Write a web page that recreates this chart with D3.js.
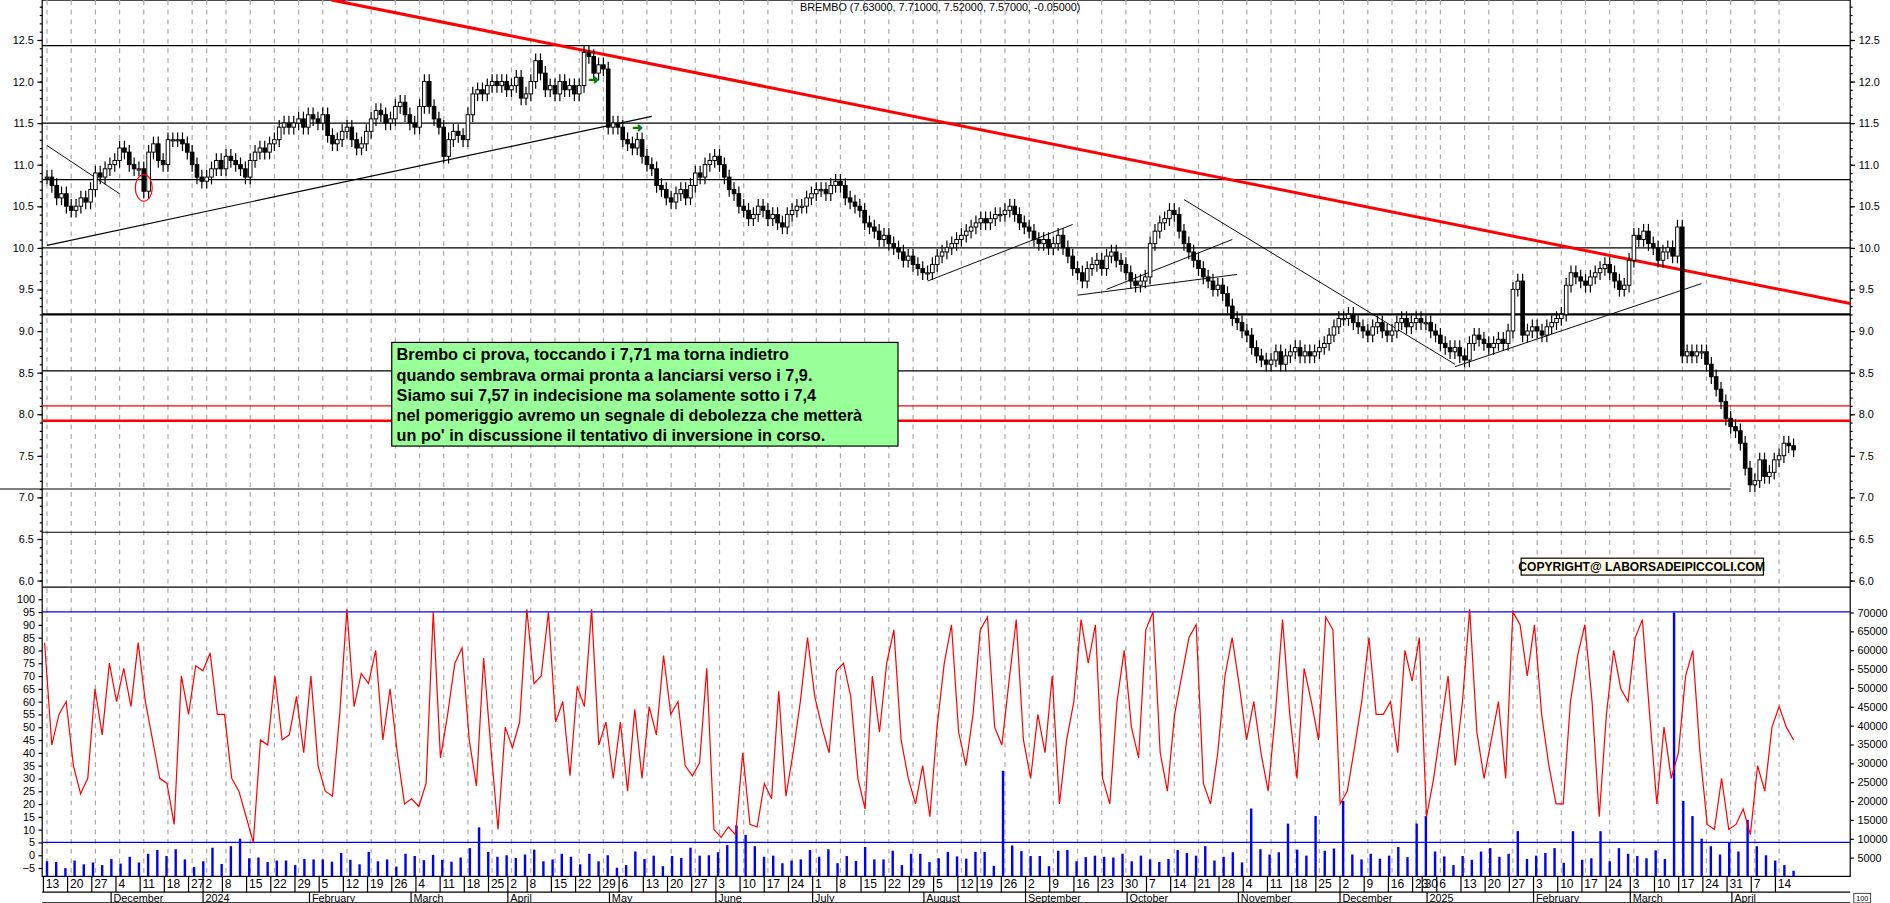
<!DOCTYPE html>
<html><head><meta charset="utf-8">
<script src="https://cdn.jsdelivr.net/npm/d3@7"></script>
<style>body{margin:0;background:#fff}svg{display:block;font-family:Arial,"Liberation Sans",sans-serif}</style>
</head><body><svg width="1890" height="903" viewBox="0 0 1568 749"></svg>
<script>
const title = "BREMBO (7.63000, 7.71000, 7.52000, 7.57000, -0.05000)";
const firstDay = "2023-11-13";
const holidays = ["2023-12-25","2023-12-26","2024-01-01","2024-03-29","2024-04-01","2024-05-01","2024-08-15",
  "2024-12-24","2024-12-25","2024-12-26","2024-12-31","2025-01-01"];
// daily closes, read week by week
const closes = [
  10.85,10.75,10.6,10.65,10.5, 10.45,10.5,10.6,10.55,10.7, 10.9,10.85,10.95,11.0,11.05,
  11.2,11.15,11.0,10.95,10.95, 10.68,11.15,11.25,11.05,11.0, 11.3,11.3,11.3,11.25,11.15, 11.0,10.85,10.8,
  10.85,10.95,11.05,10.95, 11.1,11.05,11.0,10.95,10.85, 11.05,11.15,11.2,11.15,11.25, 11.3,11.45,11.5,11.45,11.5,
  11.55,11.45,11.6,11.55,11.5, 11.6,11.35,11.25,11.3,11.4, 11.45,11.3,11.2,11.25,11.4, 11.55,11.65,11.6,11.5,11.55,
  11.7,11.75,11.6,11.5,11.45, 11.7,12.0,11.7,11.55,11.45, 11.1,11.3,11.4,11.35,11.3, 11.6,11.85,11.9,11.85,11.95,
  12.0,11.95,12.0,11.9, 11.95,12.05,11.8,11.85, 12.0,12.25,12.1,11.9,11.95, 11.85,12.0,11.9,11.95,11.85,
  11.95,12.35,12.3,12.1,12.2, 12.15,11.45,11.5, 11.45,11.3,11.25,11.2,11.3, 11.1,11.0,10.95,10.75,10.7,
  10.6,10.55,10.65,10.7,10.6, 10.75,10.9,10.85,11.0,11.05, 11.1,11.0,10.85,10.7,10.65, 10.5,10.45,10.35,10.4,10.5,
  10.45,10.35,10.4,10.3,10.25, 10.4,10.45,10.5,10.5,10.6, 10.65,10.7,10.7,10.65,10.75, 10.8,10.75,10.6,10.55,10.5,
  10.45,10.3,10.25,10.2,10.1, 10.15,10.05,10.0,9.95,9.85, 9.9,9.8,9.75,9.7,9.7, 9.8,9.9,9.95,10.0,10.05,
  10.1,10.15,10.2,10.25,10.3, 10.35,10.3,10.35,10.4,10.4, 10.45,10.5,10.4,10.3,10.25, 10.2,10.1,10.05,10.1,10.0,
  10.05,10.15,10.0,9.9,9.75, 9.7,9.6,9.75,9.8,9.85, 9.75,9.9,9.95,9.85,9.8, 9.7,9.6,9.55,9.6,9.65,
  10.05,10.2,10.3,10.35,10.45, 10.4,10.2,10.05,9.95,9.85, 9.75,9.65,9.6,9.5,9.55, 9.45,9.3,9.15,9.1,9.0,
  8.95,8.8,8.7,8.65,8.6, 8.65,8.75,8.6,8.7,8.75, 8.8,8.7,8.75,8.7,8.75, 8.8,8.85,8.95,9.05,9.15,
  9.15,9.2,9.1,9.05,9.0, 8.95,9.05,9.1,9.0,8.95, 9.0,9.1,9.15,9.05,9.1, 9.15,9.1,9.1,
  9.0,8.95, 8.85,8.8,8.75,8.8,8.7, 8.65,8.85,8.95,8.9,8.85, 8.8,8.85,8.9,8.85,9.0, 9.5,9.6,8.95,9.0,9.05,
  9.0,8.95,9.05,9.1,9.15, 9.2,9.55,9.7,9.65,9.6, 9.55,9.65,9.7,9.75,9.8, 9.7,9.6,9.5,9.55,9.85,
  10.15,10.1,10.2,10.05,10.0, 9.85,9.95,10.0,9.9,10.25, 8.7,8.75,8.7,8.75,8.75, 8.6,8.45,8.3,8.15,7.95,
  7.85,7.8,7.65,7.35,7.15, 7.2,7.45,7.25,7.3,7.45, 7.5,7.65,7.62,7.57
];
const oscValues = [83,43,55,60,35,24,30,65,47,75,60,73,58,83,60,45,30,28,12,70,55,74,72,79,55,55,30,25,15,5,45,43,70,45,47,62,40,70,35,25,23,55,96,58,71,67,80,45,65,40,20,22,19,28,95,38,55,75,81,45,27,77,42,10,50,42,52,96,67,70,95,52,60,31,66,58,96,43,52,30,52,25,57,30,58,47,78,55,60,35,31,36,73,10,7,11,8,40,12,11,28,22,64,23,40,60,85,62,50,40,72,75,62,30,18,70,48,75,88,45,30,20,35,15,50,75,90,48,35,55,88,93,50,43,68,92,45,30,55,40,70,20,45,60,92,75,90,30,20,60,80,50,38,88,95,40,25,55,70,85,90,28,20,40,70,85,66,45,60,40,25,55,92,55,30,73,60,45,93,88,20,25,42,60,85,55,55,60,40,80,68,85,15,30,50,70,35,60,96,48,30,45,60,30,95,90,70,90,55,35,20,20,60,78,90,60,15,55,80,65,60,85,92,55,20,50,30,40,70,80,40,12,10,30,10,12,18,8,35,25,50,58,50,45];
const volumes = [4000,3800,2200,4200,3200,3700,3000,4600,3400,5200,3700,6000,7000,5400,7200,4500,2500,4000,7600,3300,8000,10000,4800,5000,3800,4200,4200,3000,4600,4500,4500,3900,6200,4400,3200,6500,4000,4500,2600,6000,5400,4300,5700,4400,3900,5000,7500,13000,6500,5200,5600,4900,5800,7100,4000,4500,6000,5200,3200,6000,4000,5600,2300,3000,6600,4600,5500,2700,5400,4900,7600,5500,5600,6400,8300,13500,11000,8000,5200,5500,3500,4200,4500,7000,5200,7200,3500,5400,4100,7800,4500,4500,6800,3000,6000,6000,3800,4800,6500,5300,4700,6500,6500,2800,28000,8200,6700,5400,5400,2700,6800,7000,4000,5100,5500,5200,5000,6000,4000,5500,4500,3800,4600,7000,6200,5500,8000,4200,5200,6400,3700,18000,7200,5800,6400,14000,7100,5500,16000,6800,7400,20000,5800,4500,6000,4700,5500,7800,5100,14000,16000,6600,5300,3000,5400,4400,6600,7500,5200,6000,12000,4600,5500,6200,7500,3600,12000,4400,4800,12000,4000,7500,6000,5400,4800,6900,4600,70000,20000,16000,10000,8000,5800,9000,6600,15000,8000,5600,4200,3000,1500];

// trading days from firstDay, skipping weekends and holidays
const parse = d3.utcParse("%Y-%m-%d"), fmt = d3.utcFormat("%Y-%m-%d");
const days = [];
for (let d = parse(firstDay); days.length < closes.length; d = d3.utcDay.offset(d, 1)) {
  const wd = d.getUTCDay();
  if (wd !== 0 && wd !== 6 && !holidays.includes(fmt(d))) days.push(d);
}
const candles = closes.map((c, i) => ({ day: days[i], open: i ? closes[i - 1] : c, close: c }));

const L = 35, R = 1535, P0 = 0, P1 = 487, O1 = 727;
const svg = d3.select("svg");
const x = d3.scalePoint().domain(d3.range(days.length)).range([39, 1488]);
const y = d3.scaleLinear().domain([6.0, 12.5]).range([481.5, 33]);
const yo = d3.scaleLinear().domain([-5, 100]).range([720, 497]);
const yv = d3.scaleLinear().domain([0, 70000]).range([727, 508]);

// frames
svg.append("rect").attr("x", L).attr("y", P0).attr("width", R - L).attr("height", O1 - P0).attr("fill", "none").attr("stroke", "#000");
svg.append("line").attr("x1", L).attr("x2", R).attr("y1", P1).attr("y2", P1).attr("stroke", "#000");

// week starts for grid and labels
const weekIdx = days.map((d, i) => i).filter(i => i === 0 || d3.utcMonday.floor(days[i]) > d3.utcMonday.floor(days[i - 1]));
svg.append("g").selectAll("line").data(weekIdx).join("line")
  .attr("x1", i => x(i)).attr("x2", i => x(i)).attr("y1", 0).attr("y2", O1)
  .attr("stroke", "#aaa").attr("stroke-dasharray", "4,4");

// horizontal levels
const levels = [[12.43, "#000", 1], [11.5, "#000", 1], [10.82, "#000", 1], [10.0, "#000", 1], [9.2, "#000", 2],
  [8.52, "#000", 1], [8.1, "red", 1], [7.92, "red", 2], [6.58, "#000", 1]];
svg.append("g").selectAll("line").data(levels).join("line")
  .attr("x1", L).attr("x2", R).attr("y1", d => y(d[0])).attr("y2", d => y(d[0]))
  .attr("stroke", d => d[1]).attr("stroke-width", d => d[2]);

// trendlines [i1, v1, i2, v2]
const trends = [[0, 10.03, 125, 11.58, "#000", 1], [0, 11.23, 15, 10.65, "#000", 0.8], [182, 9.6, 212, 10.28, "#000", 0.8],
  [213, 9.43, 246, 9.68, "#000", 0.8], [219, 9.5, 245, 10.1, "#000", 0.8], [235, 10.58, 291, 8.6, "#000", 0.8],
  [291, 8.57, 342, 9.57, "#000", 0.8], [348, 7.1, 362, 7.1, "#000", 1]];
svg.append("g").selectAll("line").data(trends).join("line")
  .attr("x1", d => x(d[0])).attr("y1", d => y(d[1])).attr("x2", d => x(d[2])).attr("y2", d => y(d[3]))
  .attr("stroke", d => d[4]).attr("stroke-width", d => d[5]);
svg.append("line").attr("x1", 275).attr("y1", y(12.98)).attr("x2", R).attr("y2", y(9.33)).attr("stroke", "red").attr("stroke-width", 2.5);

// candles
const cg = svg.append("g");
cg.selectAll("line").data(candles).join("line")
  .attr("x1", (d, i) => x(i)).attr("x2", (d, i) => x(i))
  .attr("y1", d => y(Math.max(d.open, d.close)) - 6).attr("y2", d => y(Math.min(d.open, d.close)) + 6).attr("stroke", "#000");
cg.selectAll("rect").data(candles).join("rect")
  .attr("x", (d, i) => x(i) - 1.5).attr("width", 3)
  .attr("y", d => y(Math.max(d.open, d.close))).attr("height", d => Math.max(1, Math.abs(y(d.open) - y(d.close))))
  .attr("fill", d => d.close >= d.open ? "#fff" : "#000").attr("stroke", "#000").attr("stroke-width", 0.8);

svg.append("ellipse").attr("cx", x(20)).attr("cy", y(10.72)).attr("rx", 7).attr("ry", 11).attr("fill", "none").attr("stroke", "red");
[[113, 12.03], [122, 11.45]].forEach(([i, v]) => svg.append("text").attr("x", x(i)).attr("y", y(v) + 4)
  .attr("font-size", 11).attr("font-weight", "bold").attr("fill", "green").attr("text-anchor", "middle").text("➜"));

// oscillator panel
svg.append("g").selectAll("line").data([95, 5]).join("line")
  .attr("x1", L).attr("x2", R).attr("y1", d => yo(d)).attr("y2", d => yo(d)).attr("stroke", "blue");
const xv = d3.scaleLinear().domain([0, volumes.length - 1]).range([39, 1488]);
svg.append("g").selectAll("line").data(volumes).join("line")
  .attr("x1", (d, i) => xv(i)).attr("x2", (d, i) => xv(i)).attr("y1", yv(0)).attr("y2", d => yv(d))
  .attr("stroke", "blue").attr("stroke-width", 2);
const xo = d3.scaleLinear().domain([0, oscValues.length - 1]).range([37, 1488]);
svg.append("path").datum(oscValues).attr("fill", "none").attr("stroke", "red").attr("stroke-width", 1)
  .attr("d", d3.line().x((d, i) => xo(i)).y(d => yo(d)));

// axes
const styleAxis = g => { g.selectAll("text").attr("font-size", 9).attr("fill", "#000"); g.select(".domain").remove(); };
svg.append("g").attr("transform", `translate(${L},0)`)
  .call(d3.axisLeft(y).tickValues(d3.range(6, 12.51, 0.5)).tickFormat(d3.format(".1f")).tickSize(4)).call(styleAxis);
svg.append("g").attr("transform", `translate(${L},0)`)
  .call(d3.axisLeft(y).tickValues(d3.range(6, 12.95, 0.1)).tickFormat("").tickSize(2)).call(g => g.select(".domain").remove());
svg.append("g").attr("transform", `translate(${R},0)`)
  .call(d3.axisRight(y).tickValues(d3.range(6, 12.51, 0.5)).tickFormat(d3.format(".1f")).tickSize(4)).call(styleAxis);
svg.append("g").attr("transform", `translate(${R},0)`)
  .call(d3.axisRight(y).tickValues(d3.range(6, 12.95, 0.1)).tickFormat("").tickSize(2)).call(g => g.select(".domain").remove());
svg.append("g").attr("transform", `translate(${L},0)`)
  .call(d3.axisLeft(yo).tickValues(d3.range(-5, 101, 5)).tickSize(3)).call(styleAxis);
svg.append("g").attr("transform", `translate(${R},0)`)
  .call(d3.axisRight(yv).tickValues(d3.range(5000, 70001, 5000)).tickFormat(d3.format("d")).tickSize(3)).call(styleAxis);

// date rows
svg.append("line").attr("x1", L).attr("x2", R).attr("y1", 740).attr("y2", 740).attr("stroke", "#000");
svg.append("line").attr("x1", L).attr("x2", R).attr("y1", 749).attr("y2", 749).attr("stroke", "#000");
const dg = svg.append("g");
weekIdx.forEach(i => {
  dg.append("line").attr("x1", x(i) - 3).attr("x2", x(i) - 3).attr("y1", O1).attr("y2", 740).attr("stroke", "#000");
  dg.append("text").attr("x", x(i) - 1).attr("y", 737).attr("font-size", 10).text(d3.utcFormat("%-d")(days[i]));
});
const monthIdx = days.map((d, i) => i).filter(i => i > 0 && days[i].getUTCMonth() !== days[i - 1].getUTCMonth());
monthIdx.forEach(i => {
  const m = days[i].getUTCMonth();
  dg.append("line").attr("x1", x(i) - 3).attr("x2", x(i) - 3).attr("y1", 740).attr("y2", 749).attr("stroke", "#000");
  dg.append("text").attr("x", x(i) - 1).attr("y", 748.5).attr("font-size", 9)
    .text(m === 0 ? d3.utcFormat("%Y")(days[i]) : d3.utcFormat("%B")(days[i]));
});
svg.append("rect").attr("x", 1538).attr("y", 741).attr("width", 14).attr("height", 8).attr("fill", "#fff").attr("stroke", "#000").attr("stroke-width", 0.6);
svg.append("text").attr("x", 1545).attr("y", 747.5).attr("font-size", 6).attr("text-anchor", "middle").text("100");

// title
svg.append("text").attr("x", 780).attr("y", 9).attr("font-size", 9).attr("text-anchor", "middle").text(title);

// note box
const note = ["Brembo ci prova, toccando i 7,71 ma torna indietro", "quando sembrava ormai pronta a lanciarsi verso i 7,9.",
  "Siamo sui 7,57 in indecisione ma solamente sotto i 7,4", "nel pomeriggio avremo un segnale di debolezza che metterà",
  "un po' in discussione il tentativo di inversione in corso."];
svg.append("rect").attr("x", 325).attr("y", 284).attr("width", 420).attr("height", 86).attr("fill", "#99ff99").attr("stroke", "#000");
svg.append("g").selectAll("text").data(note).join("text")
  .attr("x", 329).attr("y", (d, i) => 299 + i * 16.6).attr("font-size", 13.5).attr("font-weight", "bold").text(d => d);

svg.append("rect").attr("x", 1262).attr("y", 463).attr("width", 201).attr("height", 14).attr("fill", "#fffbe8").attr("stroke", "#000");
svg.append("text").attr("x", 1362).attr("y", 474).attr("font-size", 10).attr("font-weight", "bold").attr("text-anchor", "middle")
  .text("COPYRIGHT@ LABORSADEIPICCOLI.COM");
</script></body></html>
